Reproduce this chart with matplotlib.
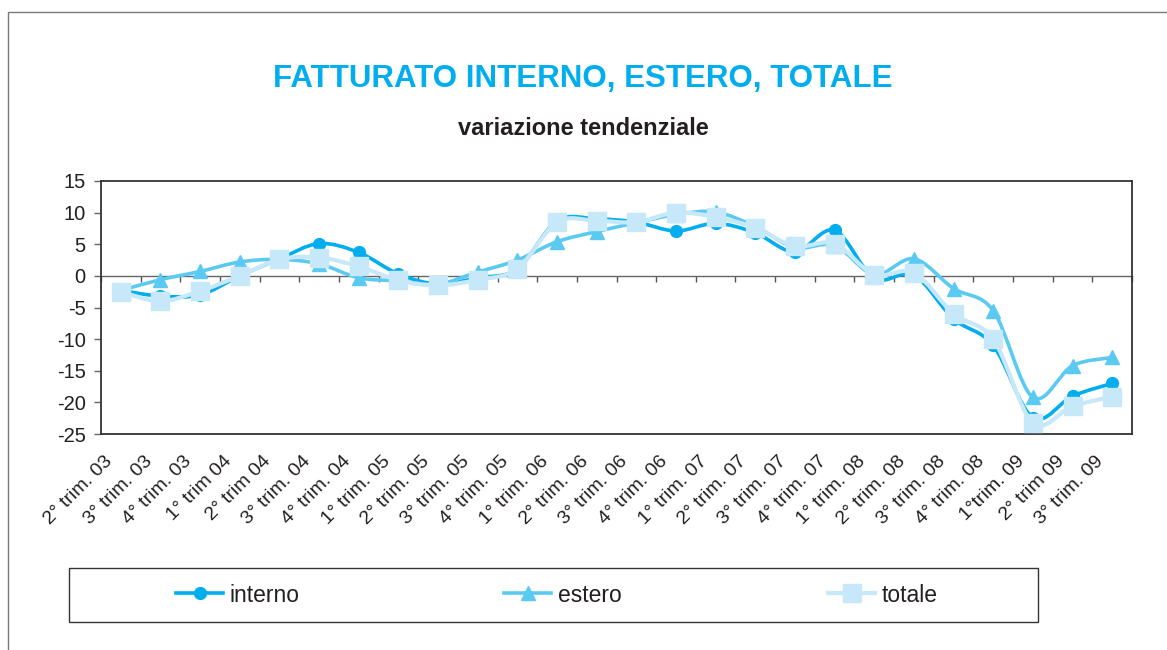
import numpy as np
import matplotlib
matplotlib.use("Agg")
import matplotlib.pyplot as plt
from matplotlib.path import Path
from matplotlib.patches import PathPatch, Rectangle
from matplotlib.lines import Line2D
from matplotlib.transforms import ScaledTranslation

plt.rcParams['font.family'] = ['Liberation Sans', 'DejaVu Sans']
plt.rcParams['axes.unicode_minus'] = False

# ---------------- data ----------------
categories = ["2° trim. 03", "3° trim. 03", "4° trim. 03", "1° trim 04", "2° trim 04",
              "3° trim. 04", "4° trim. 04", "1° trim. 05", "2° trim. 05", "3° trim. 05",
              "4° trim. 05", "1° trim. 06", "2° trim. 06", "3° trim. 06", "4° trim. 06",
              "1° trim. 07", "2° trim. 07", "3° trim. 07", "4° trim. 07", "1° trim. 08",
              "2° trim. 08", "3° trim. 08", "4° trim. 08", "1°trim. 09", "2° trim 09",
              "3° trim. 09"]
interno = [-2.3, -3.2, -3.0, 0.0, 2.7, 5.1, 3.7, 0.3, -1.3, -0.3, 1.1, 8.7, 9.0,
           8.5, 7.1, 8.3, 6.8, 3.8, 7.2, -0.4, 0.1, -6.8, -11.0, -22.4, -19.0, -17.0]
estero = [-2.3, -0.6, 0.7, 2.2, 2.6, 1.9, -0.3, -0.8, -1.3, 0.6, 2.5, 5.4, 7.0,
          8.4, 9.7, 10.1, 7.8, 4.5, 4.8, 0.2, 2.7, -2.0, -5.5, -19.2, -14.2, -12.9]
totale = [-2.5, -4.0, -2.4, 0.0, 2.6, 2.9, 1.5, -0.7, -1.5, -0.6, 1.1, 8.5, 8.7,
          8.5, 10.0, 9.3, 7.6, 4.7, 5.1, 0.2, 0.5, -6.0, -10.0, -23.2, -20.6, -19.1]
series_names = ["interno", "estero", "totale"]
y_ticks = [15, 10, 5, 0, -5, -10, -15, -20, -25]

title = "FATTURATO INTERNO, ESTERO, TOTALE"
subtitle = "variazione tendenziale"

# ---------------- style ----------------
c_int = '#00AEEF'
c_est = '#5BCAF3'
c_tot = '#C6E8F9'
c_title = '#00AEEF'
c_text = '#231F20'

W, H = 1167, 650
fig = plt.figure(figsize=(W / 100, H / 100), dpi=100)

# outer frame (open on right/bottom, as in the reference)
fig.patches.append(Rectangle((8 / W, -0.05), 1.2, 1 - 12 / H + 0.05,
                             transform=fig.transFigure, fill=False,
                             edgecolor='#7a7a7a', lw=1.0, zorder=0))

ax = fig.add_axes([101 / W, 1 - 434 / H, (1132 - 101) / W, (434 - 181) / H])
x = np.arange(len(categories))


def smooth_path(xs, ys):
    xs = np.asarray(xs, float)
    ys = np.asarray(ys, float)
    P = np.column_stack([xs, ys])
    n = len(P)
    verts = [P[0]]
    codes = [Path.MOVETO]
    for i in range(n - 1):
        p0 = P[i - 1] if i > 0 else P[i]
        p1 = P[i]
        p2 = P[i + 1]
        p3 = P[i + 2] if i + 2 < n else P[i + 1]
        c1 = p1 + (p2 - p0) / 6.0
        c2 = p2 - (p3 - p1) / 6.0
        verts += [c1, c2, p2]
        codes += [Path.CURVE4] * 3
    return Path(np.array(verts), codes)


specs = [
    (interno, c_int, 'o', 8.5, 2.6),
    (estero, c_est, '^', 10, 2.6),
    (totale, c_tot, 's', 12.5, 3.0),
]
handles = []
for k, (vals, col, mk, ms, lw) in enumerate(specs):
    z = 3 + 2 * k
    ax.add_patch(PathPatch(smooth_path(x, vals), fill=False, edgecolor=col,
                           lw=lw, zorder=z, capstyle='round', joinstyle='round'))
    ax.plot(x, vals, linestyle='none', marker=mk, markersize=ms,
            markerfacecolor=col, markeredgecolor=col, zorder=z + 1)
    handles.append(Line2D([], [], color=col, lw=lw, marker=mk, markersize=ms,
                          markerfacecolor=col, markeredgecolor=col))

ax.set_xlim(-0.5, len(categories) - 0.5)
ax.set_ylim(min(y_ticks), max(y_ticks))
ax.set_yticks(y_ticks)
ax.set_yticklabels([str(v) for v in y_ticks], fontsize=14.5, color=c_text)
ax.tick_params(axis='y', direction='out', length=5, width=1, color='#666666', pad=6)

ax.set_xticks(x)
ax.set_xticklabels(categories, rotation=45, ha='right', va='center',
                   rotation_mode='anchor', fontsize=14, color=c_text)
ax.tick_params(axis='x', length=0, pad=18)
for lab in ax.get_xticklabels():
    lab.set_transform(lab.get_transform() + ScaledTranslation(-11 / 100, 0, fig.dpi_scale_trans))

for s in ax.spines.values():
    s.set_color('#333333')
    s.set_linewidth(1.3)

# category axis crossing at zero with tick marks between categories
ymin, ymax = ax.get_ylim()
sec = ax.secondary_xaxis((0 - ymin) / (ymax - ymin))
sec.set_alignment('bottom')
sec.set_xticks(np.arange(-0.5, len(categories), 1.0))
sec.tick_params(axis='x', direction='out', length=4, width=1, color='#555555',
                labelbottom=False, labeltop=False)
for s in sec.spines.values():
    s.set_color('#666666')
    s.set_linewidth(1.0)
sec.set_zorder(1)

# titles
fig.text(583 / W, 1 - 87 / H, title, ha='center', va='baseline',
         fontsize=22.5, fontweight='bold', color=c_title)
fig.text(583 / W, 1 - 135 / H, subtitle, ha='center', va='baseline',
         fontsize=17, fontweight='bold', color=c_text)

# legend box and three centered entries
lx0, lx1, ly0, ly1 = 69, 1038, 568, 622
fig.patches.append(Rectangle((lx0 / W, 1 - ly1 / H), (lx1 - lx0) / W, (ly1 - ly0) / H,
                             transform=fig.transFigure, fill=False,
                             edgecolor='#333333', lw=1.0))
centers = [238, 563, 883]
for h, name, cx in zip(handles, series_names, centers):
    fig.legend([h], [name], loc='center', bbox_to_anchor=(cx / W, 1 - 595 / H),
               frameon=False, fontsize=16.5, handlelength=2.05, handletextpad=0.3,
               borderpad=0, labelcolor=c_text)

fig.savefig('out.png', dpi=100)
